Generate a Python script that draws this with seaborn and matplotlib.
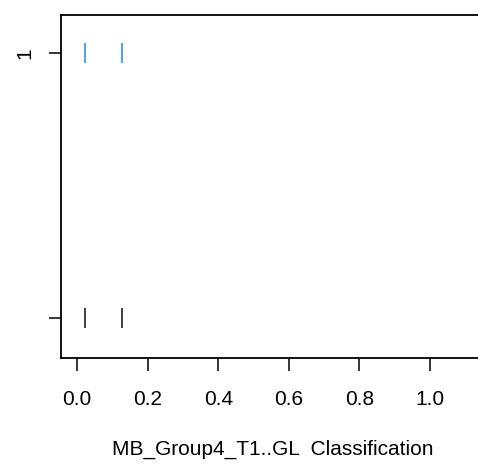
import matplotlib
matplotlib.use("Agg")
import matplotlib.pyplot as plt
import seaborn as sns
import pandas as pd

# Data
groups = ["1", ""]
values_top = [0.022, 0.127]
values_bottom = [0.022, 0.127]
colors = {"1": "#3D9BF5", "": "#303030"}
x_ticks = [0.0, 0.2, 0.4, 0.6, 0.8, 1.0]
x_label = "MB_Group4_T1..GL  Classification"

df = pd.DataFrame({
    "value": values_top + values_bottom,
    "group": [groups[0]] * len(values_top) + [groups[1]] * len(values_bottom),
})

sns.set_theme(style="white")
plt.rcParams["font.family"] = ["Liberation Sans", "DejaVu Sans"]

fig = plt.figure(figsize=(4.78, 4.74), dpi=100)
ax = fig.add_axes([61 / 478, (474 - 358) / 474, 423 / 478, 343.5 / 474])

sns.stripplot(data=df, x="value", y="group", hue="group", order=groups,
              palette=colors, jitter=False, marker="|", s=14.5,
              linewidth=1.3, legend=False, ax=ax)
for coll in ax.collections:
    fc = coll.get_facecolors()
    coll.set_edgecolors(fc)
    coll.set_linewidths(1.3)

ax.set_xlim(-0.0453, 1.153)
ax.set_ylim(1.15, -0.145)
ax.set_xticks(x_ticks)
ax.set_xticklabels([f"{t:.1f}" for t in x_ticks])
ax.set_yticks([0, 1])
ax.set_yticklabels(groups, rotation=90, va="center")
ax.set_xlabel(x_label, fontsize=15, labelpad=22, color="black")
ax.set_ylabel("")

for side in ["left", "bottom", "top"]:
    ax.spines[side].set_visible(True)
    ax.spines[side].set_color("black")
    ax.spines[side].set_linewidth(1.3)
ax.spines["right"].set_visible(False)

ax.tick_params(axis="both", which="both", direction="out", length=9,
               width=1.1, color="black", labelsize=15, labelcolor="black",
               bottom=True, left=True)
ax.tick_params(axis="x", pad=14)
ax.tick_params(axis="y", pad=10)
ax.grid(False)

fig.savefig("out.png", dpi=100, facecolor="white")
